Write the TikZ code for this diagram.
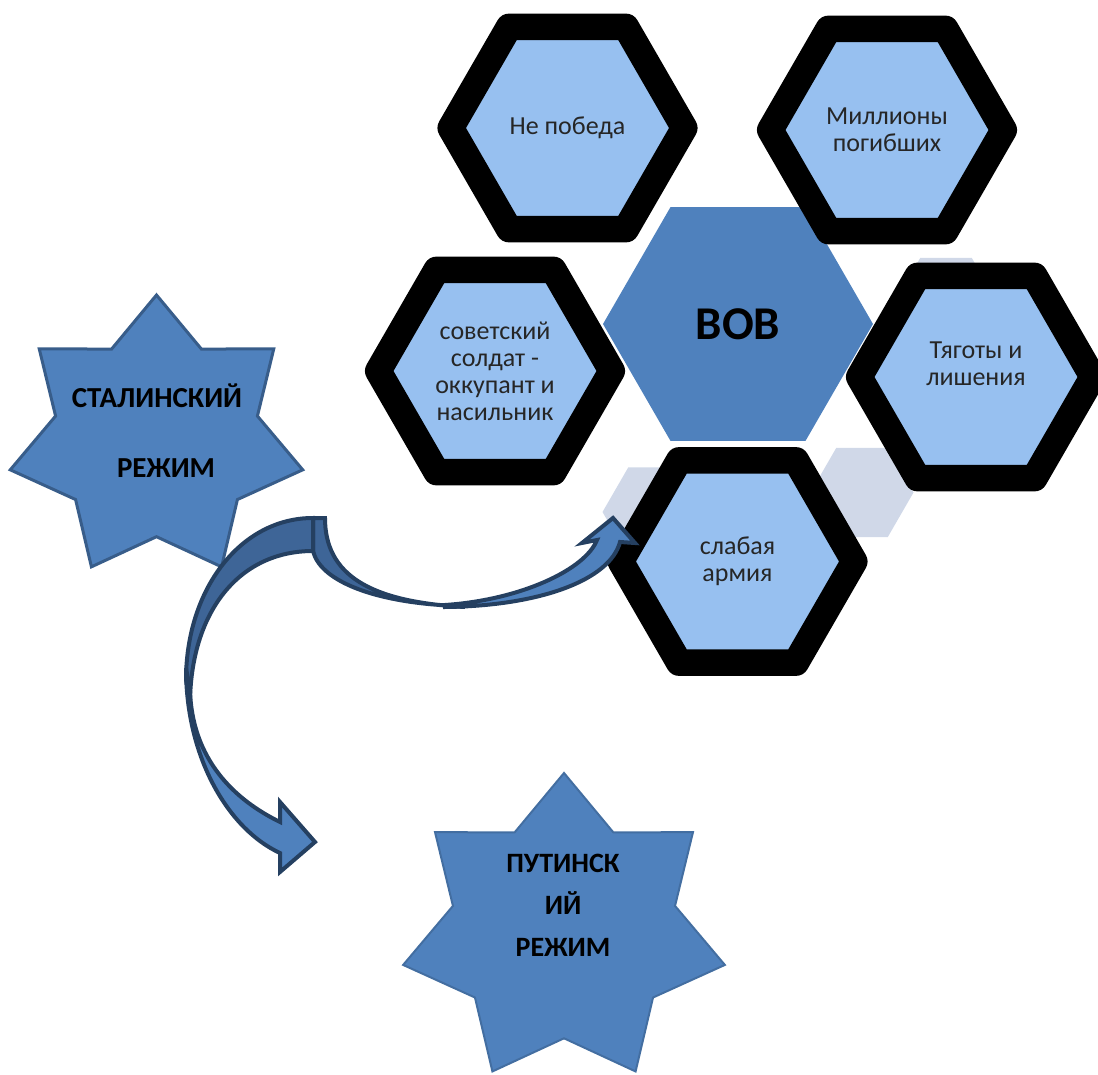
\documentclass[tikz,border=0pt]{standalone}
\usepackage{fontspec}
\setmainfont{Carlito}
\usetikzlibrary{shapes.geometric}

\definecolor{cellblue}{RGB}{151,192,240}
\definecolor{celltext}{RGB}{38,38,38}
\definecolor{vovblue}{RGB}{79,129,189}
\definecolor{shadegray}{RGB}{208,216,232}
\definecolor{starline}{RGB}{56,93,138}
\definecolor{arrowdark}{RGB}{62,101,151}
\definecolor{arrowline}{RGB}{37,64,97}

\tikzset{
    hexcell/.style={regular polygon, regular polygon sides=6, minimum size=116.8pt, inner sep=0pt,
        draw=black, line width=13.25pt, line join=round, fill=cellblue,
        text=celltext, align=center, font=\fontsize{13}{13.5}\selectfont},
    hexcore/.style={regular polygon, regular polygon sides=6, minimum size=135pt, inner sep=0pt,
        fill=vovblue, font=\bfseries\fontsize{23.5}{26}\selectfont},
    hexshade/.style={regular polygon, regular polygon sides=6, minimum size=51.5pt, inner sep=0pt,
        fill=shadegray},
    regimestar/.style={fill=vovblue, draw=starline, line width=1.5pt, line join=miter},
    regimetext/.style={align=center, font=\bfseries\fontsize{14}{21}\selectfont},
    arrowback/.style={fill=arrowdark, draw=arrowline, line width=2pt},
    arrowfront/.style={fill=vovblue, draw=arrowline, line width=2pt}
}

\begin{document}
\begin{tikzpicture}[x=0.5pt, y=-0.5pt]
    \useasboundingbox (0,0) rectangle (1098,1075);

    % faint cells behind the cluster
    \node[hexshade] (shadeA) at (862,492.5) {};
    \node[hexshade] (shadeB) at (946,302.5) {};
    \node[hexshade] (shadeC) at (654,512) {};

    \node[hexcore] (vov) at (738,324) {ВОВ};

    \node[hexcell] (nopob) at (567.5,128) {Не победа};
    \node[hexcell] (millions) at (887,130) {Миллионы\\погибших};
    \node[hexcell] (soldier) at (495,371) {советский\\солдат -\\оккупант и\\насильник};
    \node[hexcell] (hardship) at (976,377) {Тяготы и\\лишения\\ };
    \node[hexcell] (weakarmy) at (737.5,561.5) {слабая\\армия};

    % seven-pointed stars
    \begin{scope}[shift={(156.5,438)}]
        \draw[regimestar] (270:150 and 143)
            \foreach \k in {1,...,7}
                { -- ({270+(2*\k-1)*180/7}:103.5 and 98.7) -- ({270+\k*360/7}:150 and 143) } -- cycle;
    \end{scope}
    \node[regimetext, font=\bfseries\fontsize{14.5}{35}\selectfont] (stalin) at (157,431)
        {СТАЛИНСКИЙ\\\hspace*{9pt}РЕЖИМ};

    \begin{scope}[shift={(564,930)}]
        \draw[regimestar, draw=vovblue!85!black, line width=1pt] (270:165 and 157)
            \foreach \k in {1,...,7}
                { -- ({270+(2*\k-1)*180/7}:113.9 and 108.3) -- ({270+\k*360/7}:165 and 157) } -- cycle;
    \end{scope}
    \node[regimetext] (putin) at (563,905) {ПУТИНСК\\ИЙ\\РЕЖИМ};

    % curved block arrows
    \draw[arrowback] (313,518) -- (325,518) .. controls (325,575) and (370,602) .. (465,607)
        -- (440,605) .. controls (370,600) and (320,580) .. (313,551) -- cycle;
    \draw[arrowback] (313,518) .. controls (240,518) and (186,590) .. (186,680)
        -- (190,700) .. controls (192,610) and (240,551) .. (313,551) -- cycle;
    \draw[arrowfront] (186,668) .. controls (186,760) and (230,830) .. (280,853)
        -- (280,872) -- (315,842) -- (280,802) -- (280,822)
        .. controls (235,800) and (192,760) .. (190,690) -- cycle;
    \draw[arrowfront] (445,607) .. controls (540,606) and (610,580) .. (620,542)
        -- (635,543) -- (613,518) -- (582,543) -- (597,540)
        .. controls (585,570) and (520,600) .. (445,605) -- cycle;
\end{tikzpicture}
\end{document}
